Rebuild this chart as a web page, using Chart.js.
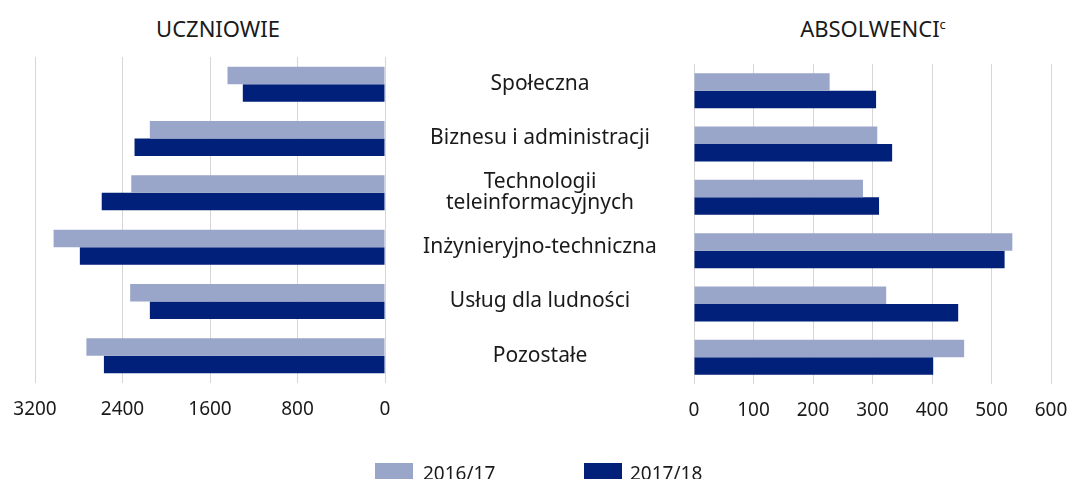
<!DOCTYPE html>
<html>
<head>
<meta charset="utf-8">
<script src="https://cdn.jsdelivr.net/npm/chart.js@4.4.1/dist/chart.umd.min.js"></script>
<style>
  html, body { margin: 0; padding: 0; background: #fff; overflow: hidden; }
  body { width: 1072px; height: 479px; position: relative; font-family: "Noto Sans", sans-serif; color: #1a1a1a; }
  canvas { position: absolute; left: 0; top: 0; }
  .title { position: absolute; top: 13px; line-height: 30px; font-size: 22px; transform: translateX(-50%); white-space: nowrap; }
  .title sup { font-size: 13px; vertical-align: 8px; line-height: 0; }
  .lg-box { position: absolute; top: 463px; width: 38px; height: 18px; }
  .lg-text { position: absolute; top: 460px; font-size: 19px; line-height: 26px; white-space: nowrap; }
</style>
</head>
<body>
<div class="title" style="left:218px">UCZNIOWIE</div>
<div class="title" style="left:873px">ABSOLWENCI<sup>c</sup></div>
<canvas id="students" width="1072" height="479"></canvas>
<canvas id="graduates" width="1072" height="479"></canvas>
<div class="lg-box" style="left:375px;background:#9aa6c9"></div>
<div class="lg-text" style="left:423px">2016/17</div>
<div class="lg-box" style="left:584px;background:#00207a"></div>
<div class="lg-text" style="left:630px">2017/18</div>

<script>
// dziedziny kształcenia
var categories = [
    'Społeczna',
    'Biznesu i administracji',
    ['Technologii', 'teleinformacyjnych'],
    'Inżynieryjno-techniczna',
    'Usług dla ludności',
    'Pozostałe'
];
var seriesLabels = ['2016/17', '2017/18'];

var students2016 = [1440, 2150, 2320, 3030, 2330, 2730];
var students2017 = [1300, 2290, 2590, 2790, 2150, 2570];

var graduates2016 = [228, 308, 284, 535, 323, 454];
var graduates2017 = [306, 333, 311, 522, 444, 402];

var studentTicks = [0, 800, 1600, 2400, 3200];
var graduateTicks = [0, 100, 200, 300, 400, 500, 600];

var lightBlue = '#9aa6c9';
var darkBlue = '#00207a';
var gridColor = '#d6d6d6';
// tall line height pushes tick labels down without widening the plot padding
var tickFont = { family: '"Noto Sans", sans-serif', size: 19, lineHeight: 2.8 };
var catFont = { family: '"Noto Sans", sans-serif', size: 21, lineHeight: 1 };

// label column sits centred between the two plots
var m = document.createElement('canvas').getContext('2d');
m.font = '21px "Noto Sans"';
var widest = m.measureText('Inżynieryjno-techniczna').width;
var labelPad = 155 - widest / 2;

function makeDatasets(a, b, catPct) {
    return [{
        label: seriesLabels[0],
        data: a,
        backgroundColor: lightBlue,
        barPercentage: 1,
        categoryPercentage: catPct
    }, {
        label: seriesLabels[1],
        data: b,
        backgroundColor: darkBlue,
        barPercentage: 1,
        categoryPercentage: catPct
    }];
}

function xAxis(max, step, tickList, reverse, h) {
    return {
        type: 'linear',
        reverse: reverse,
        min: 0,
        max: max,
        grid: { color: gridColor, drawTicks: false, lineWidth: 1 },
        border: { display: false },
        ticks: {
            stepSize: step,
            font: tickFont,
            color: '#1a1a1a',
            padding: 0,
            callback: function (v) { return tickList.indexOf(v) >= 0 ? String(v) : ''; }
        },
        afterFit: function (s) { s.height = h; }
    };
}

new Chart(document.getElementById('students'), {
    type: 'bar',
    data: { labels: categories, datasets: makeDatasets(students2016, students2017, 0.645) },
    options: {
        indexAxis: 'y',
        responsive: false,
        animation: false,
        layout: { padding: { left: 35, right: 378, top: 57, bottom: 0 } },
        plugins: { legend: { display: false }, tooltip: { enabled: false } },
        scales: {
            x: xAxis(3200, 800, studentTicks, true, 96),
            y: {
                position: 'right',
                grid: { display: false, drawTicks: false },
                border: { display: false },
                ticks: { font: catFont, color: '#1a1a1a', crossAlign: 'center', padding: labelPad },
                afterFit: function (s) { s.width = 309; }
            }
        }
    }
});

new Chart(document.getElementById('graduates'), {
    type: 'bar',
    data: { labels: categories, datasets: makeDatasets(graduates2016, graduates2017, 0.655) },
    options: {
        indexAxis: 'y',
        responsive: false,
        animation: false,
        layout: { padding: { left: 694, right: 21, top: 64, bottom: 0 } },
        plugins: { legend: { display: false }, tooltip: { enabled: false } },
        scales: {
            x: xAxis(600, 100, graduateTicks, false, 95),
            y: { display: false }
        }
    }
});
</script>
</body>
</html>
